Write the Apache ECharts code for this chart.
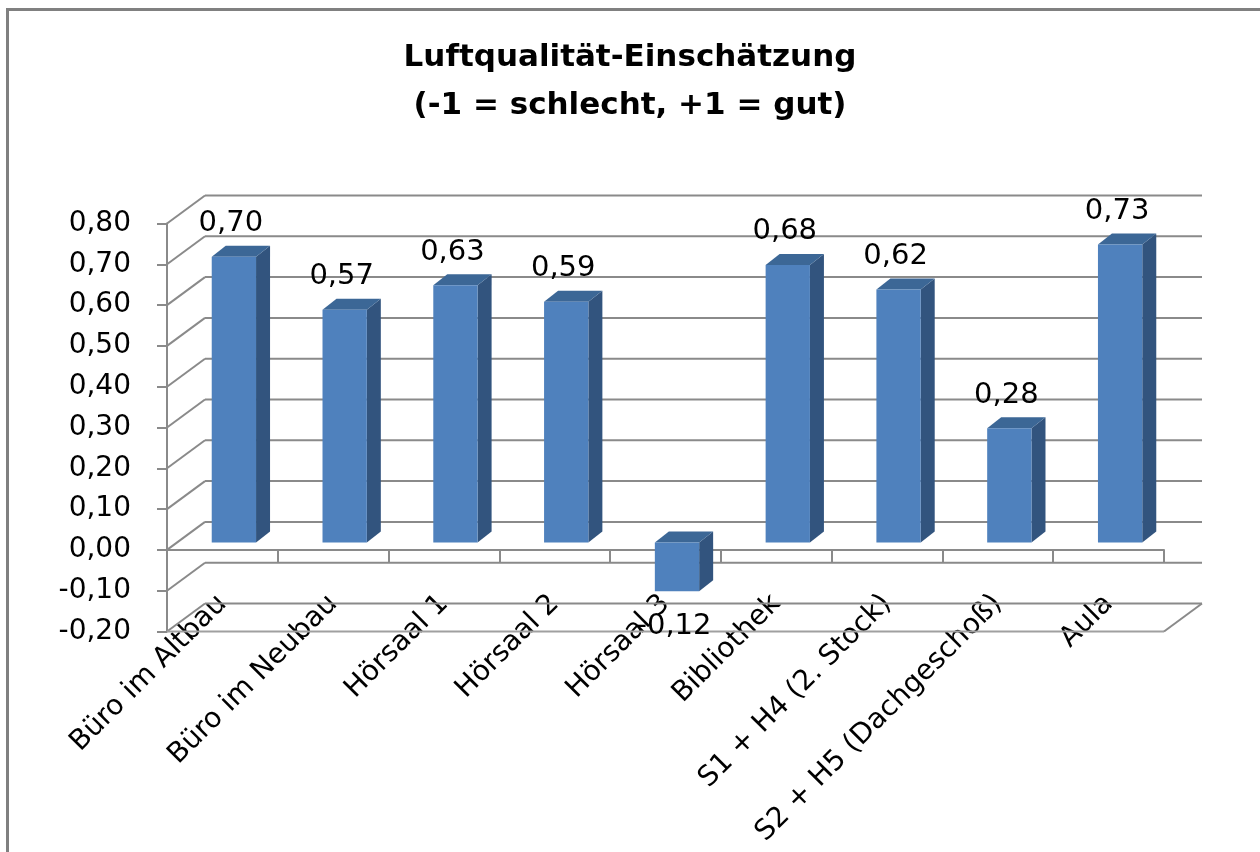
<!DOCTYPE html>
<html><head><meta charset="utf-8">
<script src="https://cdn.jsdelivr.net/npm/echarts@6/dist/echarts.min.js"></script>
<style>html,body{margin:0;padding:0;background:#fff}#c{width:1260px;height:852px}</style>
</head><body><div id="c"></div>
<script>
const categories = ['Büro im Altbau','Büro im Neubau','Hörsaal 1','Hörsaal 2','Hörsaal 3','Bibliothek','S1 + H4 (2. Stock)','S2 + H5 (Dachgeschoß)','Aula'];
const values = [0.70, 0.57, 0.63, 0.59, -0.12, 0.68, 0.62, 0.28, 0.73];
const yTicks = [-0.2, -0.1, 0, 0.1, 0.2, 0.3, 0.4, 0.5, 0.6, 0.7, 0.8];
const titleLines = ['Luftqualität-Einschätzung', '(-1 = schlecht, +1 = gut)'];

const FONT = 'DejaVu Sans';
const WALL_DEPTH = [38, -28];
const BAR_DEPTH = [14, -11];
const GRID_COLOR = '#8a8a8a';
const fmt = v => v.toFixed(2).replace('.', ',');
const Y_MIN = yTicks[0], Y_MAX = yTicks[yTicks.length - 1];

function renderWall(params, api) {
  const v = api.value(1);
  const cs = params.coordSys;
  const y = api.coord([0, v])[1];
  const x0 = cs.x, x1 = cs.x + cs.width;
  const dx = WALL_DEPTH[0], dy = WALL_DEPTH[1];
  const st = { stroke: GRID_COLOR, lineWidth: 2 };
  const children = [
    { type: 'line', shape: { x1: x0, y1: y, x2: x0 + dx, y2: y + dy }, style: st },
    { type: 'line', shape: { x1: x0 + dx, y1: y + dy, x2: x1 + dx, y2: y + dy }, style: st }
  ];
  if (Math.abs(v - Y_MIN) < 1e-9) {
    children.push({ type: 'line', shape: { x1: x0, y1: y, x2: x1, y2: y }, style: { stroke: '#a0a0a0', lineWidth: 2 } });
    children.push({ type: 'line', shape: { x1: x1, y1: y, x2: x1 + dx, y2: y + dy }, style: st });
  }
  return { type: 'group', children: children };
}

function renderBar(params, api) {
  const idx = api.value(0), v = api.value(1);
  const p0 = api.coord([idx, 0]), pv = api.coord([idx, v]);
  const w = api.size([1, 0])[0] * 0.4;
  const cx = p0[0];
  const yT = Math.min(p0[1], pv[1]), yB = Math.max(p0[1], pv[1]);
  const dx = BAR_DEPTH[0], dy = BAR_DEPTH[1];
  const l = cx - w / 2, r = cx + w / 2;
  return {
    type: 'group',
    children: [
      { type: 'polygon', shape: { points: [[r, yT], [r + dx, yT + dy], [r + dx, yB + dy], [r, yB]] }, style: { fill: '#32547e' } },
      { type: 'polygon', shape: { points: [[l, yT], [l + dx, yT + dy], [r + dx, yT + dy], [r, yT]] }, style: { fill: '#3c6796' } },
      { type: 'rect', shape: { x: l, y: yT, width: w, height: yB - yT }, style: { fill: '#4f81bd' } },
      { type: 'text', x: cx - 3, y: v >= 0 ? yT - 33 : yB + 35,
        style: { text: fmt(v), fontFamily: FONT, fontSize: 29, fill: '#000', align: 'center', verticalAlign: 'middle' } }
    ]
  };
}

const chart = echarts.init(document.getElementById('c'), null, { renderer: 'canvas' });
chart.setOption({
  animation: false,
  backgroundColor: '#fff',
  title: {
    text: titleLines.join('\n'),
    left: 'center',
    top: 29,
    textStyle: { fontFamily: FONT, fontSize: 31, fontWeight: 'bold', color: '#000', lineHeight: 48 }
  },
  graphic: [{
    type: 'rect', z: -10,
    shape: { x: 7.5, y: 9.5, width: 1300, height: 900 },
    style: { fill: 'none', stroke: '#808080', lineWidth: 3 }
  }],
  grid: [
    { left: 167, top: 223.5, width: 997, height: 408, containLabel: false, outerBoundsMode: 'none' },
    { left: 178.5, top: 216, width: 997, height: 408, containLabel: false, outerBoundsMode: 'none' }
  ],
  xAxis: [
    { type: 'category', gridIndex: 0, data: categories,
      axisLine: { show: true, onZero: true, lineStyle: { color: GRID_COLOR, width: 2 } },
      axisTick: { show: true, length: 12, lineStyle: { color: GRID_COLOR, width: 2 } },
      axisLabel: { show: true, interval: 0, rotate: 45, margin: -32, hideOverlap: false, fontFamily: FONT, fontSize: 28, color: '#000' },
      splitLine: { show: false } },
    { type: 'category', gridIndex: 1, data: categories, show: false,
      axisLine: { show: false, onZero: false }, axisTick: { show: false },
      axisLabel: { show: false }, splitLine: { show: false } }
  ],
  yAxis: [
    { type: 'value', gridIndex: 0, min: Y_MIN, max: Y_MAX, interval: 0.1,
      axisLine: { show: true, lineStyle: { color: GRID_COLOR, width: 2 } },
      axisTick: { show: true, length: 10, lineStyle: { color: GRID_COLOR, width: 2 } },
      axisLabel: { margin: 36, fontFamily: FONT, fontSize: 28, color: '#000', formatter: fmt },
      splitLine: { show: false } },
    { type: 'value', gridIndex: 1, min: Y_MIN, max: Y_MAX, interval: 0.1, show: false,
      splitLine: { show: false } }
  ],
  series: [
    { type: 'custom', name: 'walls', xAxisIndex: 0, yAxisIndex: 0, clip: false, z: 1, silent: true,
      renderItem: renderWall, data: yTicks.map(v => [0, v]) },
    { type: 'custom', name: 'Luftqualität', xAxisIndex: 1, yAxisIndex: 1, clip: false, z: 5,
      renderItem: renderBar, data: values.map((v, i) => [i, v]) }
  ]
});
</script>
</body></html>
